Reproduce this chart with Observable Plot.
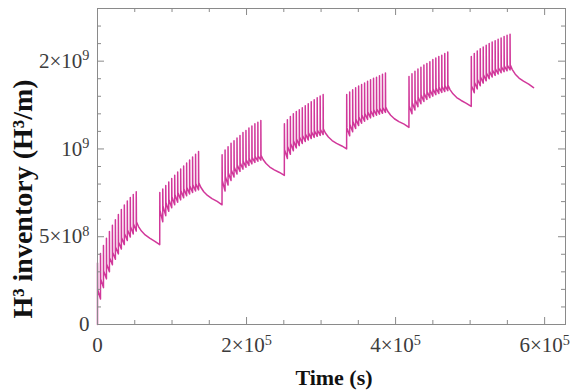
<!DOCTYPE html>
<html><head><meta charset="utf-8">
<script src="https://cdn.jsdelivr.net/npm/d3@7"></script>
<script src="https://cdn.jsdelivr.net/npm/@observablehq/plot@0.6"></script>
<style>html,body{margin:0;padding:0;background:#fff;} #chart svg{display:block;}</style>
</head><body><div id="chart"></div>
<script>
// ---- data (inventory values in units of 1e8 H3/m, time in s) ----
const cycleStarts = [0, 83600, 167200, 250800, 334400, 418000, 501600];
const pulseOffsets = [0, 4000, 8000, 12000, 16000, 20000, 24000, 28000, 32000, 36000, 40000, 44000, 48000, 52000];
const decayOffsets = [55000, 59000, 64000, 70000, 77000, 83500];

const pulsePeaks = [
  [3.50, 4.05, 4.50, 4.92, 5.30, 5.65, 5.97, 6.27, 6.55, 6.80, 7.03, 7.23, 7.40, 7.56],
  [7.52, 7.72, 7.92, 8.12, 8.32, 8.50, 8.68, 8.86, 9.03, 9.20, 9.37, 9.54, 9.70, 9.86],
  [9.67, 9.94, 10.13, 10.32, 10.47, 10.63, 10.76, 10.93, 11.05, 11.20, 11.31, 11.43, 11.52, 11.62],
  [11.43, 11.66, 11.85, 12.00, 12.13, 12.23, 12.34, 12.46, 12.57, 12.69, 12.80, 12.91, 13.01, 13.10],
  [13.10, 13.25, 13.37, 13.49, 13.58, 13.67, 13.75, 13.85, 13.94, 14.02, 14.09, 14.17, 14.25, 14.32],
  [14.13, 14.29, 14.43, 14.55, 14.66, 14.78, 14.87, 14.97, 15.09, 15.18, 15.26, 15.33, 15.43, 15.52],
  [15.27, 15.43, 15.58, 15.71, 15.81, 15.90, 16.00, 16.09, 16.17, 16.25, 16.32, 16.40, 16.47, 16.53]
];
const pulseMids = [
  [2.00, 2.60, 3.05, 3.45, 3.80, 4.12, 4.42, 4.70, 4.95, 5.18, 5.40, 5.58, 5.74, 5.85],
  [6.50, 6.75, 6.95, 7.12, 7.27, 7.40, 7.52, 7.63, 7.73, 7.82, 7.90, 7.97, 8.03, 8.08],
  [8.20, 8.45, 8.65, 8.82, 8.97, 9.10, 9.21, 9.31, 9.39, 9.46, 9.52, 9.57, 9.61, 9.64],
  [9.95, 10.15, 10.32, 10.46, 10.58, 10.69, 10.78, 10.86, 10.93, 10.99, 11.04, 11.08, 11.12, 11.15],
  [11.20, 11.40, 11.57, 11.71, 11.83, 11.94, 12.03, 12.11, 12.18, 12.24, 12.29, 12.33, 12.37, 12.40],
  [12.45, 12.65, 12.82, 12.96, 13.08, 13.18, 13.27, 13.35, 13.42, 13.48, 13.53, 13.57, 13.61, 13.64],
  [13.60, 13.80, 13.97, 14.11, 14.23, 14.34, 14.43, 14.51, 14.58, 14.64, 14.69, 14.73, 14.77, 14.80]
];
const pulseTroughs = [
  [1.45, 2.10, 2.60, 3.00, 3.40, 3.72, 4.02, 4.30, 4.55, 4.78, 4.98, 5.16, 5.32],
  [5.85, 6.20, 6.45, 6.65, 6.82, 6.97, 7.10, 7.22, 7.33, 7.43, 7.52, 7.60, 7.67],
  [7.60, 7.95, 8.20, 8.40, 8.57, 8.72, 8.85, 8.96, 9.06, 9.15, 9.23, 9.30, 9.36],
  [9.45, 9.70, 9.90, 10.06, 10.19, 10.31, 10.42, 10.51, 10.59, 10.66, 10.72, 10.77, 10.82],
  [10.75, 10.98, 11.17, 11.33, 11.46, 11.58, 11.68, 11.77, 11.85, 11.92, 11.98, 12.03, 12.08],
  [12.00, 12.22, 12.41, 12.57, 12.70, 12.82, 12.92, 13.01, 13.09, 13.16, 13.22, 13.27, 13.32],
  [13.20, 13.42, 13.60, 13.75, 13.88, 14.00, 14.10, 14.19, 14.27, 14.34, 14.40, 14.45, 14.50]
];
const decayLevels = [
  [5.58, 5.32, 5.10, 4.92, 4.74, 4.55],
  [7.82, 7.56, 7.35, 7.17, 7.01, 6.82],
  [9.40, 9.17, 8.97, 8.81, 8.66, 8.49],
  [10.91, 10.68, 10.48, 10.32, 10.17, 10.00],
  [12.15, 11.92, 11.72, 11.56, 11.41, 11.23],
  [13.38, 13.14, 12.93, 12.76, 12.60, 12.42],
  [14.52, 14.26, 14.04, 13.86, 13.69, 13.49]
];

// ---- axes ticks / labels ----
const xMajorTicks = [0, 200000, 400000, 600000];
const xTickLabels = ["0", "2×10^5", "4×10^5", "6×10^5"];
const xMinorTicks = [50000, 100000, 150000, 250000, 300000, 350000, 450000, 500000, 550000];
const yMajorTicks = [0, 5e8, 1e9, 1.5e9];
const yTickLabels = ["0", "5×10^8", "10^9", "2×10^9"];
const yMinorTicks = [1e8, 2e8, 3e8, 4e8, 6e8, 7e8, 8e8, 9e8, 1.1e9, 1.2e9, 1.3e9, 1.4e9, 1.6e9, 1.7e9];

// ---- build the line table from the read values ----
const rows = [{t: 0, v: 0}];
cycleStarts.forEach((s, c) => {
  pulseOffsets.forEach((o, k) => {
    if (k > 0) rows.push({t: s + o, v: pulseTroughs[c][k - 1]});
    rows.push({t: s + o, v: pulsePeaks[c][k]});
    rows.push({t: s + o + 250, v: pulseMids[c][k]});
  });
  decayOffsets.forEach((o, j) => rows.push({t: s + o, v: decayLevels[c][j]}));
});

const W = 577, H = 391, ML = 97, MR = 12, MT = 8, MB = 67;
const FW = W - ML - MR, FH = H - MT - MB;
const axisColor = "#8a8a8a";
const lineColor = "#d1389a";

const chart = Plot.plot({
  width: W, height: H,
  marginLeft: ML, marginRight: MR, marginTop: MT, marginBottom: MB,
  style: {fontFamily: '"Liberation Serif", "Times New Roman", serif', fontSize: "21px", color: "#3c3c3c", background: "#fff"},
  x: {domain: [0, 628000]},
  y: {domain: [0, 1.8e9]},
  marks: [
    Plot.line(rows, {x: "t", y: d => d.v * 1e8, stroke: lineColor, strokeWidth: 1.5}),
    Plot.frame({stroke: axisColor}),
    Plot.tickX(xMinorTicks, {x: d => d, insetTop: FH - 4, stroke: axisColor}),
    Plot.tickX(xMinorTicks, {x: d => d, insetBottom: FH - 4, stroke: axisColor}),
    Plot.tickX(xMajorTicks, {x: d => d, insetTop: FH - 7, stroke: axisColor}),
    Plot.tickX(xMajorTicks, {x: d => d, insetBottom: FH - 7, stroke: axisColor}),
    Plot.tickY(yMinorTicks, {y: d => d, insetRight: FW - 4, stroke: axisColor}),
    Plot.tickY(yMinorTicks, {y: d => d, insetLeft: FW - 4, stroke: axisColor}),
    Plot.tickY(yMajorTicks, {y: d => d, insetRight: FW - 7, stroke: axisColor}),
    Plot.tickY(yMajorTicks, {y: d => d, insetLeft: FW - 7, stroke: axisColor}),
    Plot.axisX(xMajorTicks, {tickSize: 0, tickPadding: 13, label: null,
      tickFormat: d => xTickLabels[xMajorTicks.indexOf(d)]}),
    Plot.axisY(yMajorTicks, {tickSize: 0, tickPadding: 8, label: null,
      tickFormat: d => yTickLabels[yMajorTicks.indexOf(d)]})
  ]
});

document.getElementById("chart").appendChild(chart);
const svg = d3.select(chart);

// superscript exponents in tick labels
svg.selectAll('g[aria-label="x-axis tick label"] text, g[aria-label="y-axis tick label"] text').each(function () {
  const s = this.textContent; const i = s.indexOf("^");
  if (i < 0) return;
  const el = d3.select(this); el.text(null);
  el.append("tspan").text(s.slice(0, i));
  el.append("tspan").attr("dy", "-0.55em").attr("font-size", "0.68em").text(s.slice(i + 1));
});

// axis titles
svg.append("text")
  .attr("x", ML + FW / 2 + 3).attr("y", H - 6)
  .attr("text-anchor", "middle").attr("font-weight", "bold").attr("font-size", 22)
  .attr("fill", "#111").text("Time (s)");
svg.append("text")
  .attr("transform", `translate(32,${MT + FH / 2 + 33}) rotate(-90)`)
  .attr("text-anchor", "middle").attr("font-weight", "bold").attr("font-size", 28)
  .attr("fill", "#111").text("H³ inventory (H³/m)");
</script></body></html>
